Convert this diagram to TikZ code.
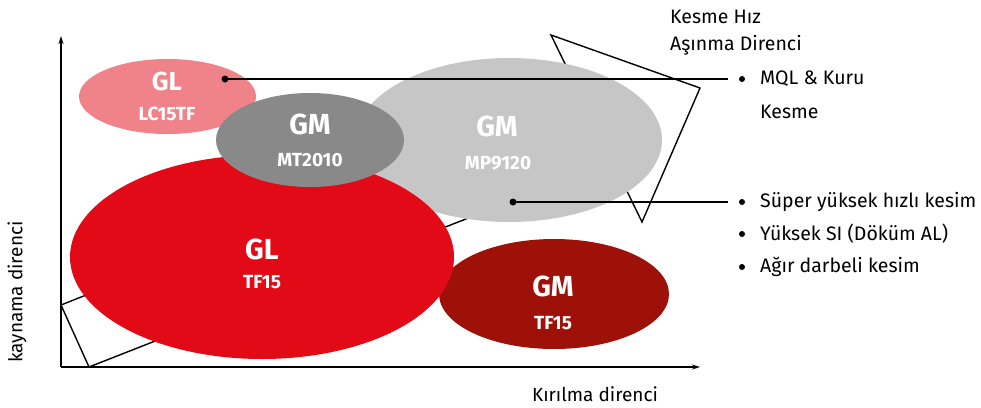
\documentclass[tikz,border=0pt]{standalone}
\usepackage{fontspec}
\setmainfont{Fira Sans}
\usepackage{tikz}
\usetikzlibrary{arrows.meta}
\definecolor{glpink}{HTML}{F08389}
\definecolor{gmdark}{HTML}{898989}
\definecolor{gmlight}{HTML}{C6C6C6}
\definecolor{glred}{HTML}{E30A17}
\definecolor{gmred}{HTML}{9E1109}

\begin{document}
\begin{tikzpicture}[x=1pt,y=-1pt,
  outline/.style={line width=1.4pt,line join=miter},
  axis/.style={line width=1.3pt,-{Stealth[length=8pt,width=5pt]}},
  big/.style={text=white,font=\bfseries\fontsize{29}{29}\selectfont,inner sep=0},
  small/.style={text=white,font=\bfseries\fontsize{19}{19}\selectfont,inner sep=0},
  txt/.style={anchor=west,font=\fontsize{19.5}{19.5}\selectfont,inner sep=0},
  dotnode/.style={circle,fill=black,inner sep=0,minimum size=7pt},
  bul/.style={circle,fill=black,inner sep=0,minimum size=6pt},
  link/.style={line width=1.8pt}]
\useasboundingbox (0,0) rectangle (981,407);
\coordinate (o) at (61,367);
\coordinate (ytop) at (61,36);
\coordinate (xend) at (700,367);
\draw[axis] (o) -- (ytop);
\draw[axis] (o) -- (xend);
\node[rotate=90,font=\fontsize{19}{19}\selectfont] (ylab) at (17,292) {kaynama direnci};
\node[font=\fontsize{19}{19}\selectfont] (xlab) at (595,394) {Kırılma direnci};
\draw[outline] (300,210) -- (61,305) -- (89,367) -- (560,182);
\draw[outline] (551,35) -- (700,88) -- (642,222) -- cycle;
\fill[glpink] (167.5,96.5) ellipse [x radius=88.5pt, y radius=37.5pt];
\fill[gmlight] (509,140) ellipse [x radius=153pt, y radius=82pt];
\fill[gmred] (554,294) ellipse [x radius=115pt, y radius=55pt];
\fill[glred] (262,257) ellipse [x radius=192pt, y radius=102pt];
\fill[gmdark] (310,140) ellipse [x radius=94pt, y radius=47pt];
\node[big,font=\bfseries\fontsize{26}{26}\selectfont] (gl1) at (167,81) {GL};
\node[small] (lc15tf) at (167,114) {LC15TF};
\node[big] (gm1) at (310,124) {GM};
\node[small] (mt2010) at (310,160) {MT2010};
\node[big] (gm2) at (497,126) {GM};
\node[small] (mp9120) at (498,163) {MP9120};
\node[big] (gl2) at (262,249) {GL};
\node[small] (tf15a) at (262,282) {TF15};
\node[big] (gm3) at (553,286) {GM};
\node[small] (tf15b) at (553,323) {TF15};
\node[txt] (kesmehiz) at (670,17) {Kesme Hız};
\node[txt] (asinma) at (670,45) {Aşınma Direnci};
\node[dotnode] (d1) at (225,79) {};
\node[dotnode] (d2) at (513,202) {};
\coordinate (e1) at (728,79);
\coordinate (e2) at (728,202);
\draw[link] (d1.center) -- (e1);
\draw[link] (d2.center) -- (e2);
\node[bul] (b1) at (742,79) {};
\node[bul] (b2) at (742,202) {};
\node[bul] (b3) at (742,234) {};
\node[bul] (b4) at (742,267) {};
\node[txt] (mql) at (760,79) {MQL \& Kuru};
\node[txt] (kesme) at (760,112) {Kesme};
\node[txt] (super) at (760,202) {Süper yüksek hızlı kesim};
\node[txt] (yuksek) at (760,234) {Yüksek SI (Döküm AL)};
\node[txt] (agir) at (760,267) {Ağır darbeli kesim};
\end{tikzpicture}
\end{document}
